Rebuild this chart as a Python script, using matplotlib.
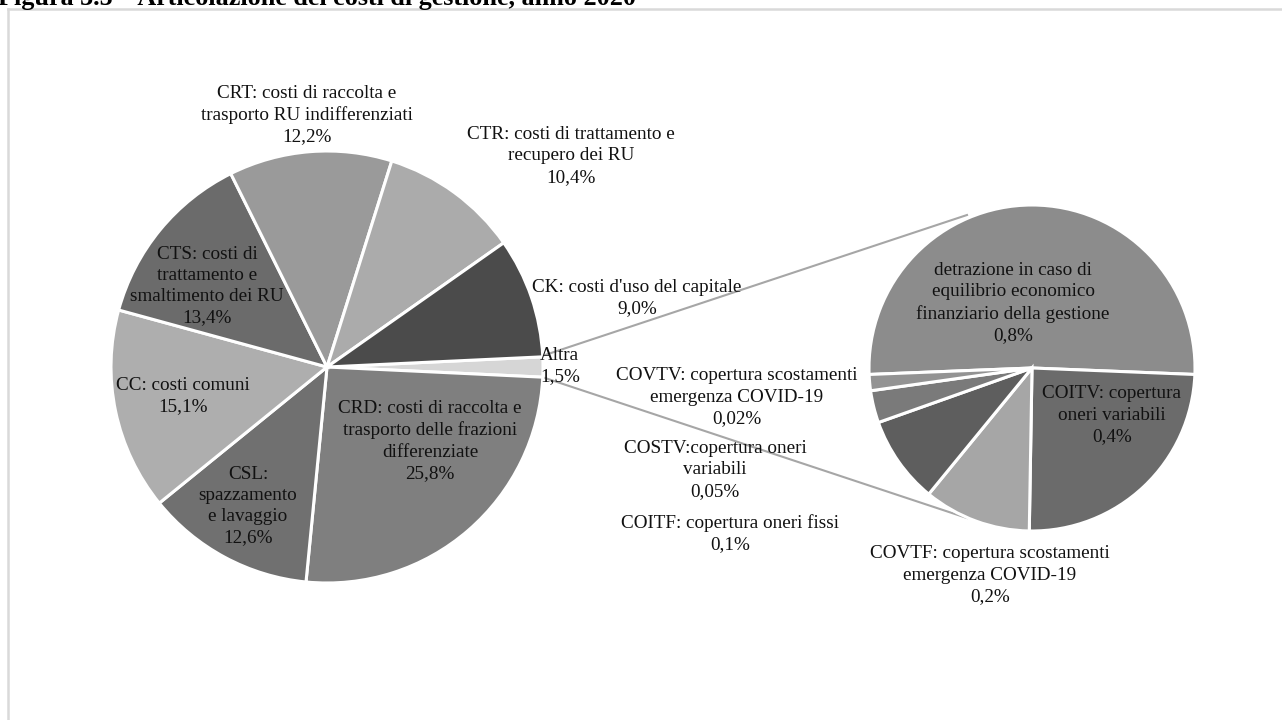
import matplotlib
matplotlib.use("Agg")
import matplotlib.pyplot as plt
from matplotlib.lines import Line2D

plt.rcParams['font.family'] = ['Liberation Serif', 'DejaVu Serif']

# ---------------- data ----------------
title = "Figura 3.5 – Articolazione dei costi di gestione, anno 2020"

main_labels = ["Altra",
               "CRD: costi di raccolta e\ntrasporto delle frazioni\ndifferenziate",
               "CSL:\nspazzamento\ne lavaggio",
               "CC: costi comuni",
               "CTS: costi di\ntrattamento e\nsmaltimento dei RU",
               "CRT: costi di raccolta e\ntrasporto RU indifferenziati",
               "CTR: costi di trattamento e\nrecupero dei RU",
               "CK: costi d'uso del capitale"]
main_values = [1.5, 25.8, 12.6, 15.1, 13.4, 12.2, 10.4, 9.0]
main_colors = ["#d6d6d6", "#7f7f7f", "#707070", "#aeaeae", "#6b6b6b",
               "#9a9a9a", "#ababab", "#4b4b4b"]

sub_labels = ["detrazione in caso di\nequilibrio economico\nfinanziario della gestione",
              "COITV: copertura\noneri variabili",
              "COVTF: copertura scostamenti\nemergenza COVID-19",
              "COITF: copertura oneri fissi",
              "COSTV:copertura oneri\nvariabili",
              "COVTV: copertura scostamenti\nemergenza COVID-19"]
sub_values = [0.77, 0.37, 0.16, 0.13, 0.048, 0.024]
sub_decimals = [1, 1, 1, 1, 2, 2]
sub_colors = ["#8c8c8c", "#6b6b6b", "#a6a6a6", "#5e5e5e", "#7a7a7a", "#939393"]

# ---------------- layout (pixel coords, origin bottom-left) ----------------
W, H = 1282, 720
fig = plt.figure(figsize=(W / 100, H / 100), dpi=100)
ax = fig.add_axes([0, 0, 1, 1])
ax.set_xlim(0, W)
ax.set_ylim(0, H)
ax.set_aspect('equal')
ax.axis('off')

def Y(y_img):
    return H - y_img

main_c = (327, Y(367))
main_r = 216
sub_c = (1032, Y(368))
sub_r = 163

main_total = sum(main_values)
start_main = main_values[0] / main_total * 360 / 2
ax.pie(main_values, colors=main_colors, center=main_c, radius=main_r,
       startangle=start_main, counterclock=False,
       wedgeprops=dict(edgecolor='white', linewidth=2.2), frame=True)

sub_total = sum(sub_values)
start_sub = 90 + sub_values[0] / sub_total * 180
ax.pie(sub_values, colors=sub_colors, center=sub_c, radius=sub_r,
       startangle=start_sub, counterclock=False,
       wedgeprops=dict(edgecolor='white', linewidth=2.2), frame=True)

ax.set_xlim(0, W)
ax.set_ylim(0, H)
ax.axis('off')

# connector lines
ax.plot([545, 967], [Y(355), Y(215)], color='#a6a6a6', lw=1.5, zorder=0.5)
ax.plot([545, 967], [Y(378), Y(518)], color='#a6a6a6', lw=1.5, zorder=0.5)

def fmt(v, d):
    return f"{v:.{d}f}".replace('.', ',') + "%"

fs = 13.8
ls = 1.33
main_pos = [(560, 366), (430, 441), (248, 506), (183, 396), (207, 286),
            (307, 115), (571, 156), (637, 298)]
for lab, v, (x, y) in zip(main_labels, main_values, main_pos):
    ax.text(x, Y(y), lab + "\n" + fmt(v, 1), ha='center', va='center',
            fontsize=fs, linespacing=ls, color='#111111', zorder=5,
            multialignment='center' if lab != "Altra" else 'left')

sub_pos = [(1013, 303), (1112, 415), (990, 575), (730, 534), (715, 470),
           (737, 397)]
for lab, v, d, (x, y) in zip(sub_labels, sub_values, sub_decimals, sub_pos):
    ax.text(x, Y(y), lab + "\n" + fmt(v, d), ha='center', va='center',
            fontsize=fs, linespacing=ls, color='#111111', zorder=5)

# chart frame (partially visible)
ax.add_line(Line2D([8, W], [Y(9), Y(9)], color='#d9d9d9', lw=1.8))
ax.add_line(Line2D([8, 8], [Y(9), 0], color='#d9d9d9', lw=1.8))

# title (cut at top)
ax.text(-2, Y(5), title, ha='left', va='baseline', fontsize=18.8,
        fontweight='bold', color='black')

fig.savefig("out.png", dpi=100)
